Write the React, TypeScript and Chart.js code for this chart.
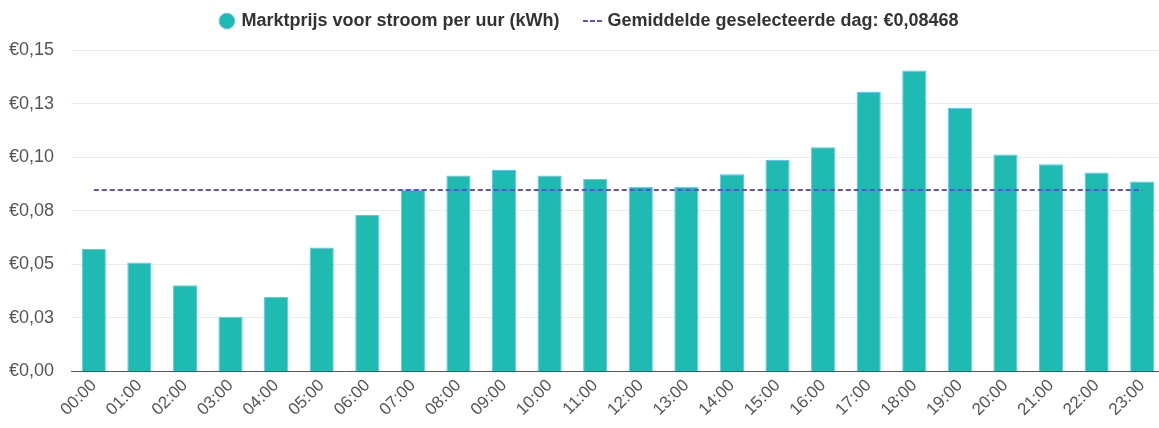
import React, { useEffect, useRef } from "react";
import { Chart, registerables } from "chart.js";

Chart.register(...registerables);

const hours = [
  "00:00", "01:00", "02:00", "03:00", "04:00", "05:00", "06:00", "07:00",
  "08:00", "09:00", "10:00", "11:00", "12:00", "13:00", "14:00", "15:00",
  "16:00", "17:00", "18:00", "19:00", "20:00", "21:00", "22:00", "23:00",
];

const prices = [
  0.0571, 0.0509, 0.0402, 0.0256, 0.0349, 0.0578, 0.0730, 0.0849,
  0.0915, 0.0940, 0.0915, 0.0898, 0.0862, 0.0862, 0.0920, 0.0987,
  0.1046, 0.1304, 0.1404, 0.1229, 0.1013, 0.0967, 0.0929, 0.0887,
];

const averagePrice = [
  0.08468, 0.08468, 0.08468, 0.08468, 0.08468, 0.08468, 0.08468, 0.08468,
  0.08468, 0.08468, 0.08468, 0.08468, 0.08468, 0.08468, 0.08468, 0.08468,
  0.08468, 0.08468, 0.08468, 0.08468, 0.08468, 0.08468, 0.08468, 0.08468,
];

const priceLabel = "Marktprijs voor stroom per uur (kWh)";
const averageLabel = "Gemiddelde geselecteerde dag: €0,08468";

const yMin = 0;
const yMax = 0.15;
const yStep = 0.025;

const LEGEND_HEIGHT = 66;
const LEGEND_SHIFT = 15;
const Y_AXIS_WIDTH = 71;

function formatEuro(v: number): string {
  const r = Math.round(v * 100 + 1e-6) / 100;
  return "€" + r.toFixed(2).replace(".", ",");
}

function makeDashCanvas(color: string): HTMLCanvasElement {
  const c = document.createElement("canvas");
  c.width = 20;
  c.height = 4;
  const ctx = c.getContext("2d")!;
  ctx.fillStyle = color;
  for (let x = 0; x < 20; x += 7) {
    ctx.fillRect(x, 1, 5, 2);
  }
  return c;
}

const legendLayoutPlugin = {
  id: "legendLayout",
  beforeInit(chart: any) {
    const legend = chart.legend;
    if (!legend) return;
    const origFit = legend.fit;
    legend.fit = function () {
      origFit.call(this);
      this.height = LEGEND_HEIGHT;
    };
  },
  afterLayout(chart: any) {
    if (chart.legend) chart.legend.left += LEGEND_SHIFT;
  },
};

export default function App() {
  const canvasRef = useRef<HTMLCanvasElement | null>(null);

  useEffect(() => {
    const canvas = canvasRef.current;
    if (!canvas) return;
    Chart.defaults.font.family = 'Arial, "Liberation Sans", sans-serif';
    const lineColor = "#5a4fd4";
    const dash = makeDashCanvas(lineColor);
    const chart = new Chart(canvas, {
      type: "bar",
      plugins: [legendLayoutPlugin],
      data: {
        labels: hours,
        datasets: [
          {
            type: "bar",
            label: priceLabel,
            data: prices,
            backgroundColor: "#1fbab1",
            borderColor: "#5cc6ec",
            borderWidth: 1,
            barPercentage: 0.53,
            categoryPercentage: 1,
            order: 2,
          },
          {
            type: "line",
            label: averageLabel,
            data: averagePrice,
            borderColor: lineColor,
            backgroundColor: lineColor,
            borderWidth: 2,
            borderDash: [5, 3],
            pointRadius: 0,
            pointHoverRadius: 0,
            pointStyle: dash as any,
            fill: false,
            order: 1,
          },
        ],
      },
      options: {
        responsive: false,
        animation: false,
        layout: { padding: { left: 0, right: 0, top: -16, bottom: 4 } },
        plugins: {
          legend: {
            position: "top",
            labels: {
              usePointStyle: true,
              boxWidth: 11,
              boxHeight: 11,
              padding: 28,
              color: "#333333",
              font: { size: 18, weight: "bold" },
              sort: (a: any, b: any) => a.datasetIndex - b.datasetIndex,
            },
          },
          tooltip: { enabled: false },
        },
        scales: {
          x: {
            grid: { display: false, drawTicks: false },
            border: { display: true, color: "#555555", width: 1 },
            ticks: {
              color: "#555555",
              font: { size: 17 },
              minRotation: 45,
              maxRotation: 45,
              autoSkip: false,
              padding: 4,
            },
          },
          y: {
            min: yMin,
            max: yMax,
            grid: { color: "#ebebeb", drawTicks: false },
            border: { display: false },
            afterFit: (scale: any) => {
              scale.width = Y_AXIS_WIDTH;
            },
            ticks: {
              stepSize: yStep,
              color: "#555555",
              font: { size: 18 },
              padding: 17,
              callback: (v: any) => formatEuro(Number(v)),
            },
          },
        },
      },
    });
    return () => chart.destroy();
  }, []);

  return (
    <div
      style={{
        position: "fixed",
        left: 0,
        top: 0,
        width: 1159,
        height: 428,
        overflow: "hidden",
        background: "#ffffff",
      }}
    >
      <canvas
        ref={canvasRef}
        width={1165}
        height={428}
        style={{ width: 1165, height: 428, display: "block" }}
      />
    </div>
  );
}
